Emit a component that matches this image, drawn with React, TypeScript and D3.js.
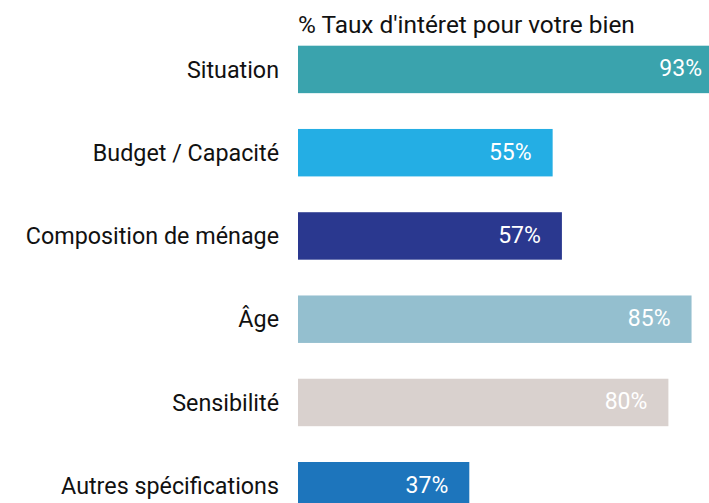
import React from "react";
import * as d3 from "d3";

const categories = [
  "Situation",
  "Budget / Capacité",
  "Composition de ménage",
  "Âge",
  "Sensibilité",
  "Autres spécifications",
];
const values = [93, 55, 57, 85, 80, 37];
const colors = ["#3AA3AD", "#24AEE4", "#2A388F", "#94BFCF", "#D9D1CE", "#1D75BC"];
const title = "% Taux d'intéret pour votre bien";

const W = 709;
const H = 503;
const FONT = "Roboto, 'Noto Sans', sans-serif";

export default function App() {
  const x0 = 298;
  const x = d3.scaleLinear().domain([0, 100]).range([0, 463]);
  const step = 83.26;
  const y = d3
    .scaleBand<string>()
    .domain(categories)
    .range([27.8, 27.8 + step * categories.length])
    .paddingInner(0.43)
    .paddingOuter(0.215);

  return (
    <div style={{ position: "fixed", left: 0, top: 0, width: W, height: H, overflow: "hidden", background: "#fff" }}>
      <svg width={W} height={H} style={{ display: "block" }} fontFamily={FONT}>
        <text x={x0} y={33} fontSize={24.4} fill="#111">
          {title}
        </text>
        {categories.map((c, i) => {
          const yy = y(c)!;
          const bw = y.bandwidth();
          const end = x0 + x(values[i]);
          const lx = Math.min(end - 21, 702);
          return (
            <g key={c}>
              <text
                x={279}
                y={yy + bw / 2}
                dy="0.35em"
                textAnchor="end"
                fontSize={23.3}
                fill="#111"
              >
                {c}
              </text>
              <rect x={x0} y={yy} width={x(values[i])} height={bw} fill={colors[i]} />
              <text
                x={lx}
                y={yy + bw / 2}
                dy="0.3em"
                textAnchor="end"
                fontSize={23}
                fill="#fff"
              >
                {values[i]}%
              </text>
            </g>
          );
        })}
      </svg>
    </div>
  );
}
